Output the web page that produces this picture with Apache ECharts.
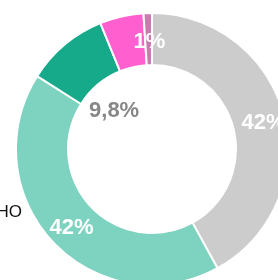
<!DOCTYPE html>
<html><head><meta charset="utf-8">
<script src="https://cdn.jsdelivr.net/npm/echarts@6/dist/echarts.min.js"></script>
<style>html,body{margin:0;padding:0;background:#fff}#c{width:278px;height:280px}</style>
</head><body><div id="c"></div>
<script>
const categories = ['A', 'B', 'C', 'D', 'E'];
const values = [42, 42, 9.8, 5.2, 1];
const valueLabels = ['42%', '42%', '9,8%', '', '1%'];
const colors = ['#cdcccc', '#7ed2c0', '#16a98a', '#ff5fcf', '#c97bb0'];
const sideText = 'НО';

const chart = echarts.init(document.getElementById('c'), null, {renderer: 'canvas'});
const font = 'Liberation Sans, Arial, sans-serif';

const ringData = categories.map((c, i) => ({
  name: c, value: values[i],
  itemStyle: {color: colors[i]},
  label: {show: valueLabels[i] !== '' && i !== 2, formatter: valueLabels[i], offset: i === 4 ? [1, 6] : [2, 2]}
}));
const holeData = categories.map((c, i) => ({
  name: c, value: values[i],
  label: {show: i === 2, formatter: valueLabels[i], offset: [0, 7]}
}));

chart.setOption({
  animation: false,
  series: [{
    type: 'pie',
    center: [152, 149],
    radius: [84, 136],
    startAngle: 90,
    clockwise: true,
    itemStyle: {borderColor: '#fff', borderWidth: 2},
    label: {position: 'inside', color: '#fff', fontSize: 22, fontWeight: 'bold', fontFamily: font},
    labelLine: {show: false},
    emphasis: {disabled: true},
    data: ringData
  }, {
    type: 'pie',
    center: [152, 149],
    radius: [0, 112],
    startAngle: 90,
    clockwise: true,
    silent: true,
    itemStyle: {color: 'rgba(0,0,0,0)'},
    label: {position: 'inside', color: '#878787', fontSize: 22, fontWeight: 'bold', fontFamily: font},
    labelLine: {show: false},
    data: holeData
  }],
  graphic: [{
    type: 'text', right: 256, top: 204,
    style: {text: sideText, fill: '#111', font: '17px ' + font}
  }]
});
</script></body></html>
